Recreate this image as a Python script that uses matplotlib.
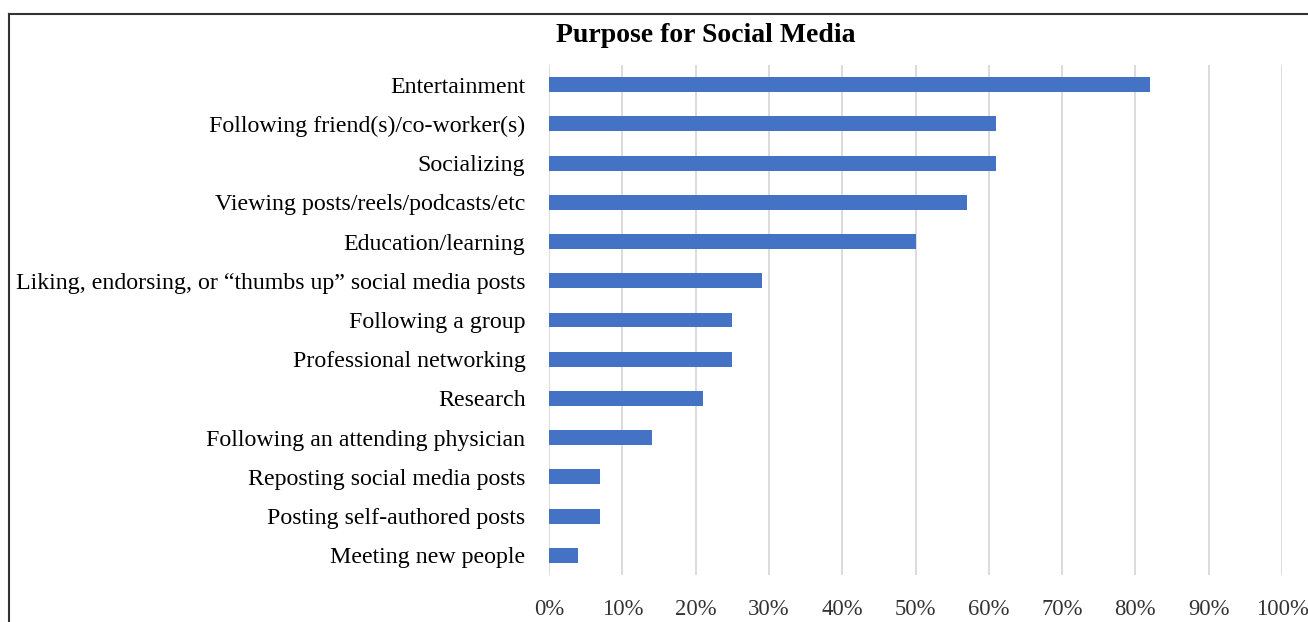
import matplotlib
matplotlib.use("Agg")
import matplotlib.pyplot as plt
from matplotlib.lines import Line2D

categories = [
    "Entertainment",
    "Following friend(s)/co-worker(s)",
    "Socializing",
    "Viewing posts/reels/podcasts/etc",
    "Education/learning",
    "Liking, endorsing, or \u201cthumbs up\u201d social media posts",
    "Following a group",
    "Professional networking",
    "Research",
    "Following an attending physician",
    "Reposting social media posts",
    "Posting self-authored posts",
    "Meeting new people",
]
values = [82, 61, 61, 57, 50, 29, 25, 25, 21, 14, 7, 7, 4]
ticks = list(range(0, 101, 10))
tick_labels = [f"{t}%" for t in ticks]

plt.rcParams['font.family'] = ['Liberation Serif', 'DejaVu Serif']

W, H = 1308, 622
fig = plt.figure(figsize=(W / 100, H / 100), dpi=100)
ax = fig.add_axes([549 / W, 1 - 575 / H, (1282 - 549) / W, (575 - 65) / H])

ypos = list(range(len(categories)))
ax.barh(ypos, values, height=0.38, color="#4472C4", zorder=3)
ax.set_ylim(len(categories) - 0.5, -0.5)
ax.set_xlim(0, 100)
ax.set_yticks(ypos)
ax.set_yticklabels(categories, fontsize=17.2, color="#000000")
ax.set_xticks(ticks)
ax.set_xticklabels(tick_labels, fontsize=16.3, color="#333333")
ax.tick_params(axis="y", length=0, pad=17)
ax.tick_params(axis="x", length=0, pad=17)
ax.grid(axis="x", color="#d9d9d9", linewidth=1.3, zorder=0)
for s in ax.spines.values():
    s.set_visible(False)

fig.text(706 / W, 1 - 42 / H, "Purpose for Social Media", ha="center", va="baseline",
         fontsize=20, fontweight="bold")

# outer frame (left and top edges visible)
fig.add_artist(Line2D([9 / W, 9 / W], [0, 1 - 14 / H], color="#333333", linewidth=1.5,
                      transform=fig.transFigure))
fig.add_artist(Line2D([9 / W, 1], [1 - 14 / H, 1 - 14 / H], color="#333333", linewidth=1.5,
                      transform=fig.transFigure))

fig.savefig("out.png", dpi=100, facecolor="white")
